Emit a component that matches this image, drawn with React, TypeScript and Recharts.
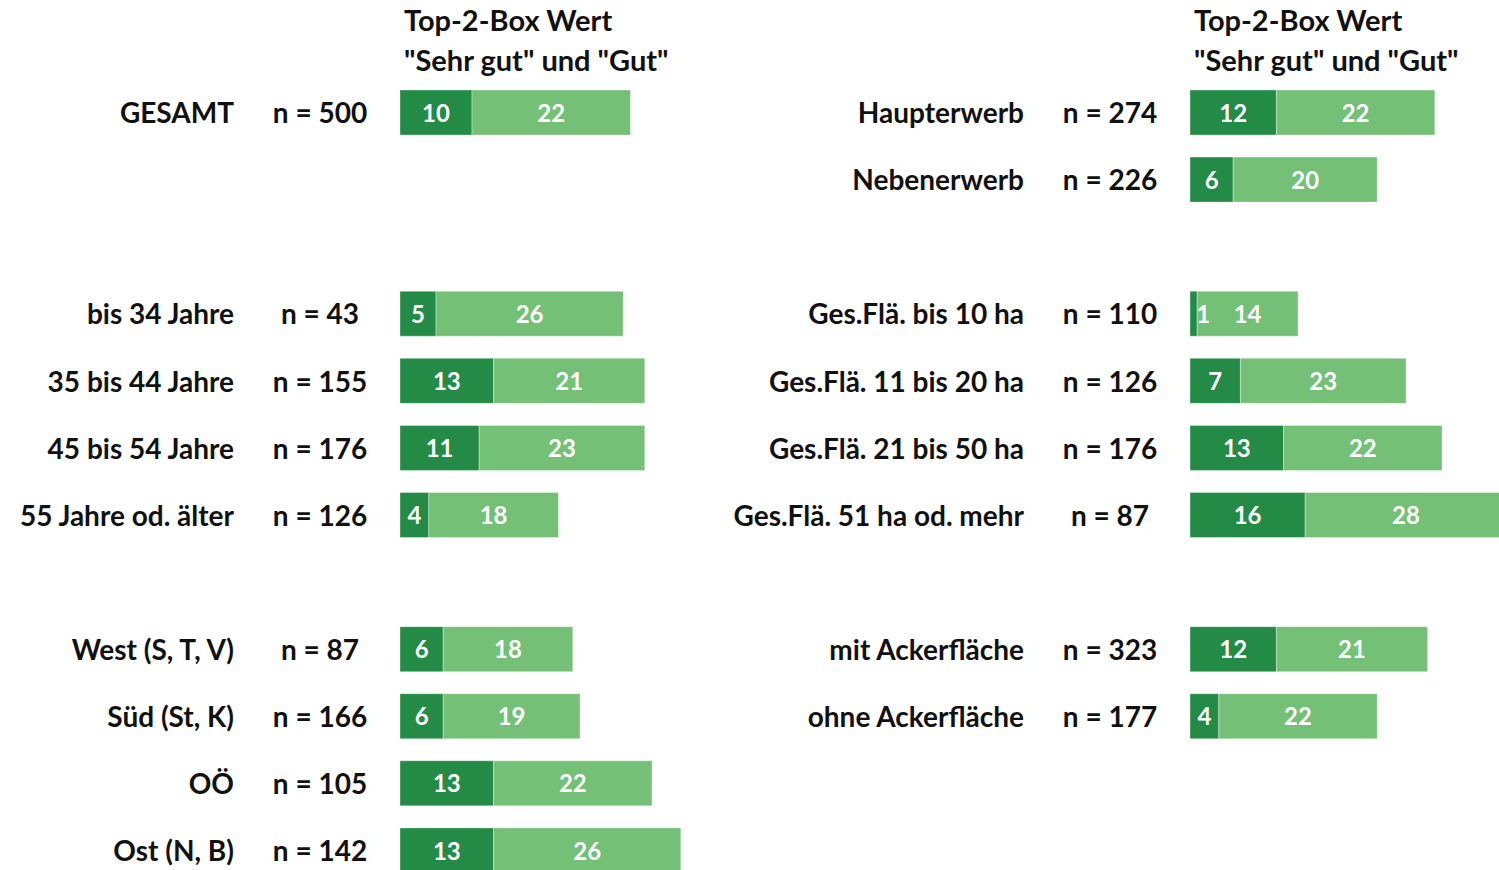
import { Bar, BarChart, XAxis, YAxis, LabelList } from "recharts";

const leftLabels = ["GESAMT", "", "", "bis 34 Jahre", "35 bis 44 Jahre", "45 bis 54 Jahre", "55 Jahre od. älter", "", "West (S, T, V)", "Süd (St, K)", "OÖ", "Ost (N, B)"];
const leftN = ["500", "", "", "43", "155", "176", "126", "", "87", "166", "105", "142"];
const leftSehrGut = [10, null, null, 5, 13, 11, 4, null, 6, 6, 13, 13];
const leftGut = [22, null, null, 26, 21, 23, 18, null, 18, 19, 22, 26];

const rightLabels = ["Haupterwerb", "Nebenerwerb", "", "Ges.Flä. bis 10 ha", "Ges.Flä. 11 bis 20 ha", "Ges.Flä. 21 bis 50 ha", "Ges.Flä. 51 ha od. mehr", "", "mit Ackerfläche", "ohne Ackerfläche", "", ""];
const rightN = ["274", "226", "", "110", "126", "176", "87", "", "323", "177", "", ""];
const rightSehrGut = [12, 6, null, 1, 7, 13, 16, null, 12, 4, null, null];
const rightGut = [22, 20, null, 14, 23, 22, 28, null, 21, 22, null, null];

const headerLines = ["Top-2-Box Wert", '"Sehr gut" und "Gut"'];

const FONT = "Lato, 'Open Sans', sans-serif";
const DARK = "#238b45";
const LIGHT = "#74c076";

// axisWidth: space left of the bars; label right edge and n centre are relative to the panel's left
function Panel({ labels, ns, sehrGut, gut, axisWidth, labelX, nX }: any) {
  const data = labels.map((label: string, i: number) => ({ key: "r" + i, label, n: ns[i], sehrGut: sehrGut[i], gut: gut[i] }));

  const renderTick = (props: any) => {
    const { y, index } = props;
    const row = data[index];
    if (!row || !row.label) return <g />;
    return (
      <g>
        <text x={labelX} y={y} dy="0.38em" textAnchor="end" fontFamily={FONT} fontWeight={700} fontSize={28} fill="#111">
          {row.label}
        </text>
        <text x={nX} y={y} dy="0.38em" textAnchor="middle" fontFamily={FONT} fontWeight={700} fontSize={28} fill="#111">
          {"n = " + row.n}
        </text>
      </g>
    );
  };

  const renderLabel = (props: any) => {
    const { x, y, width, height, value } = props;
    if (value == null) return null;
    const narrow = width < 15;
    return (
      <text
        x={narrow ? x + width - 1 : x + width / 2}
        y={y + height / 2}
        dy="0.38em"
        textAnchor={narrow ? "start" : "middle"}
        fill="#fff"
        fontFamily={FONT}
        fontWeight={700}
        fontSize={24}
      >
        {value}
      </text>
    );
  };

  return (
    <BarChart width={axisWidth + 360} height={884} data={data} layout="vertical" margin={{ top: 79, right: 0, bottom: 0, left: 0 }}>
      <XAxis type="number" hide domain={[0, 50]} />
      <YAxis type="category" dataKey="key" width={axisWidth} tickLine={false} axisLine={false} tick={renderTick} interval={0} />
      <Bar dataKey="sehrGut" stackId="a" fill={DARK} stroke="rgba(255,255,255,0.35)" barSize={45} isAnimationActive={false}>
        <LabelList dataKey="sehrGut" content={renderLabel} />
      </Bar>
      <Bar dataKey="gut" stackId="a" fill={LIGHT} stroke="rgba(255,255,255,0.35)" barSize={45} isAnimationActive={false}>
        <LabelList dataKey="gut" content={renderLabel} />
      </Bar>
    </BarChart>
  );
}

function Header({ left }: { left: number }) {
  return (
    <div style={{ position: "absolute", left, top: 0, fontFamily: FONT, fontWeight: 700, fontSize: 29, color: "#111", lineHeight: "40px" }}>
      {headerLines.map((t) => (
        <div key={t} style={{ whiteSpace: "pre" }}>{t}</div>
      ))}
    </div>
  );
}

export default function App() {
  return (
    <div style={{ position: "absolute", left: 0, top: 0, width: 1499, height: 870, overflow: "hidden", background: "#fff" }}>
      <Header left={404} />
      <Header left={1194} />
      <div style={{ position: "absolute", left: 0, top: 0 }}>
        <Panel labels={leftLabels} ns={leftN} sehrGut={leftSehrGut} gut={leftGut} axisWidth={400} labelX={234} nX={320} />
      </div>
      <div style={{ position: "absolute", left: 690, top: 0 }}>
        <Panel labels={rightLabels} ns={rightN} sehrGut={rightSehrGut} gut={rightGut} axisWidth={500} labelX={334} nX={420} />
      </div>
    </div>
  );
}
